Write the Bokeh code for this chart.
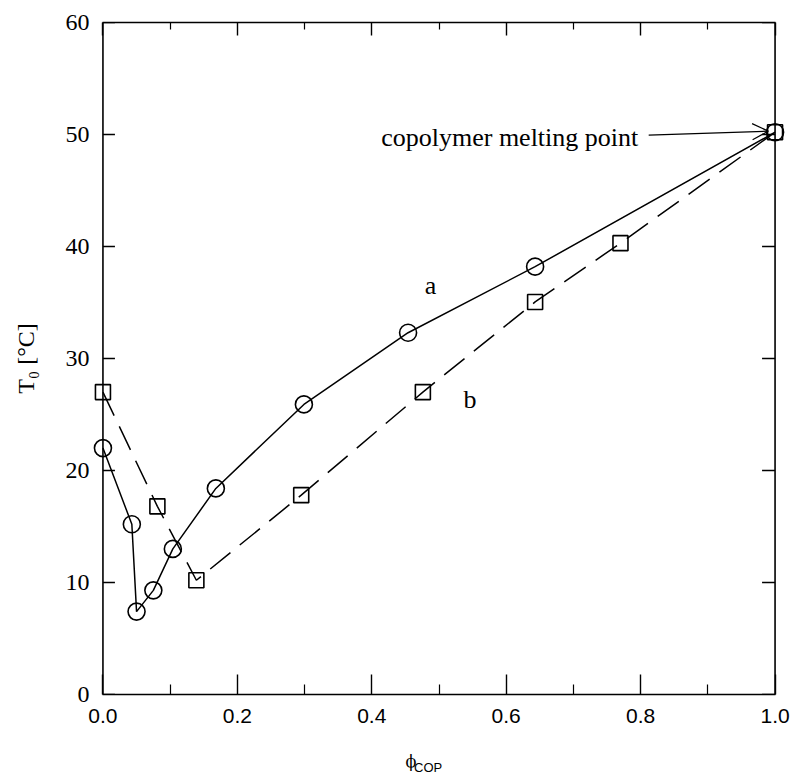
from bokeh.plotting import figure
from bokeh.models import (LinearAxis, FixedTicker, Label, Arrow, OpenHead,
                          CustomJSTickFormatter, ColumnDataSource, Range1d, Span)
from bokeh.embed import file_html
from bokeh.resources import INLINE

# ---- data ----
phi_a = [0.0, 0.043, 0.050, 0.075, 0.104, 0.168, 0.299, 0.454, 0.643, 1.0]
T_a = [22.0, 15.2, 7.4, 9.3, 13.0, 18.4, 25.9, 32.3, 38.2, 50.2]

phi_b = [0.0, 0.081, 0.139, 0.295, 0.476, 0.643, 0.770, 1.0]
T_b = [27.0, 16.8, 10.2, 17.8, 27.0, 35.05, 40.3, 50.2]

x_ticks = [0.0, 0.2, 0.4, 0.6, 0.8, 1.0]
x_tick_labels = ["0.0", "0.2", "0.4", "0.6", "0.8", "1.0"]
x_minor = [0.1, 0.3, 0.5, 0.7, 0.9]
y_ticks = [0, 10, 20, 30, 40, 50, 60]

SERIF = "Liberation Serif"
SANS = "Liberation Sans"
NBSP = "\u00a0"

W, H = 794, 783
BL, BR, BT, BB = 89, 6, 22, 89
XPAD = 0.02
PX_PER_X = (W - BL - BR) / (1 + 2 * XPAD)

p = figure(width=W, height=H,
           x_range=Range1d(-XPAD, 1 + XPAD), y_range=Range1d(0, 60),
           output_backend="svg", toolbar_location=None,
           min_border_left=BL, min_border_right=BR,
           min_border_top=BT, min_border_bottom=BB,
           x_axis_location=None, y_axis_location=None)
p.grid.visible = False
p.outline_line_color = None
p.background_fill_color = "white"
p.border_fill_color = "white"


def blank():
    return CustomJSTickFormatter(code="return ''")


def hide_labels(ax):
    ax.formatter = blank()
    ax.major_label_text_font_size = "0px"
    ax.major_label_standoff = 0


# bottom axis (frame edge, y = 0)
xb = LinearAxis(ticker=FixedTicker(ticks=x_ticks, minor_ticks=x_minor),
                bounds=(0, 1))
xb.major_label_overrides = {t: l for t, l in zip(x_ticks, x_tick_labels)}
xb.axis_line_width = 1.6
xb.major_tick_in, xb.major_tick_out = 20, 0
xb.minor_tick_in, xb.minor_tick_out = 10, 0
xb.major_tick_line_width = 1.4
xb.minor_tick_line_width = 1.2
xb.major_label_text_font = SANS
xb.major_label_text_font_size = "21px"
xb.major_label_text_color = "black"
xb.major_label_standoff = 14
p.add_layout(xb, "below")

# top axis (mirror, no labels)
xt = LinearAxis(ticker=FixedTicker(ticks=x_ticks, minor_ticks=x_minor),
                bounds=(0, 1))
xt.axis_line_width = 1.6
xt.major_tick_in, xt.major_tick_out = 13, 0
xt.minor_tick_in, xt.minor_tick_out = 7, 0
xt.major_tick_line_width = 1.4
xt.minor_tick_line_width = 1.2
hide_labels(xt)
p.add_layout(xt, "above")

# left axis: labels + title only (line and ticks drawn at phi = 0 below)
yl = LinearAxis(ticker=FixedTicker(ticks=y_ticks))
yl.axis_line_color = None
yl.major_tick_line_color = None
yl.minor_tick_line_color = None
yl.major_tick_in = yl.major_tick_out = 0
yl.minor_tick_in = yl.minor_tick_out = 0
yl.major_label_text_font = SERIF
yl.major_label_text_font_size = "24px"
yl.major_label_text_color = "black"
yl.major_label_standoff = 0
yl.axis_label = "T\u2080 [\u00b0C]"
yl.axis_label_text_font = SERIF
yl.axis_label_text_font_size = "24px"
yl.axis_label_text_font_style = "normal"
yl.axis_label_text_color = "black"
yl.axis_label_standoff = 24
p.add_layout(yl, "left")


# x axis title phi_COP: axis labels of hidden axes stacked below
# (trailing no-break spaces shift the centred label to the left)
def title_axis(txt, font, size, standoff):
    ax = LinearAxis(ticker=FixedTicker(ticks=[], minor_ticks=[]))
    ax.axis_line_color = None
    ax.major_tick_line_color = None
    ax.minor_tick_line_color = None
    ax.major_tick_in = ax.major_tick_out = 0
    ax.minor_tick_in = ax.minor_tick_out = 0
    hide_labels(ax)
    ax.axis_label = txt
    ax.axis_label_text_font = font
    ax.axis_label_text_font_size = size
    ax.axis_label_text_font_style = "normal"
    ax.axis_label_text_color = "black"
    ax.axis_label_standoff = standoff
    return ax


p.add_layout(title_axis("\u03d5" + NBSP * 11, "DejaVu Serif", "16px", 26),
             "below")
p.add_layout(title_axis("COP" + NBSP * 6, SANS, "13px", -14), "below")

# axis lines and inward ticks at phi = 0 and phi = 1
p.add_layout(Span(location=0, dimension="height", line_color="black",
                  line_width=1.6))
p.add_layout(Span(location=1, dimension="height", line_color="black",
                  line_width=1.6))
tick_l = 12 / PX_PER_X
tick_r = 13 / PX_PER_X
p.segment(x0=[0] * len(y_ticks), y0=y_ticks, x1=[tick_l] * len(y_ticks),
          y1=y_ticks, line_color="black", line_width=1.4)
p.segment(x0=[1] * len(y_ticks), y0=y_ticks, x1=[1 - tick_r] * len(y_ticks),
          y1=y_ticks, line_color="black", line_width=1.4)

src_a = ColumnDataSource(dict(x=phi_a, y=T_a))
src_b = ColumnDataSource(dict(x=phi_b, y=T_b))

p.line("x", "y", source=src_a, line_color="black", line_width=1.5)
p.scatter("x", "y", source=src_a, marker="circle", size=17,
          fill_color=None, line_color="black", line_width=1.6)

p.line("x", "y", source=src_b, line_color="black", line_width=1.5,
       line_dash="26 12")
p.scatter("x", "y", source=src_b, marker="square", size=15,
          fill_color=None, line_color="black", line_width=1.6)

# curve labels
p.add_layout(Label(x=0.4874, y=36.5, text="a", text_font=SERIF,
                   text_font_size="26px", text_align="center",
                   text_baseline="middle", text_color="black"))
p.add_layout(Label(x=0.546, y=26.3, text="b", text_font=SERIF,
                   text_font_size="26px", text_align="center",
                   text_baseline="middle", text_color="black"))

# annotation
p.add_layout(Label(x=0.414, y=49.7, text="copolymer melting point",
                   text_font=SERIF, text_font_size="26px",
                   text_align="left", text_baseline="middle",
                   text_color="black"))
p.add_layout(Arrow(end=OpenHead(size=16, line_width=1.2, line_color="black"),
                   x_start=0.812, y_start=49.95, x_end=0.99, y_end=50.3,
                   line_width=1.2, line_color="black"))

open("out.html", "w").write(file_html(p, INLINE))
